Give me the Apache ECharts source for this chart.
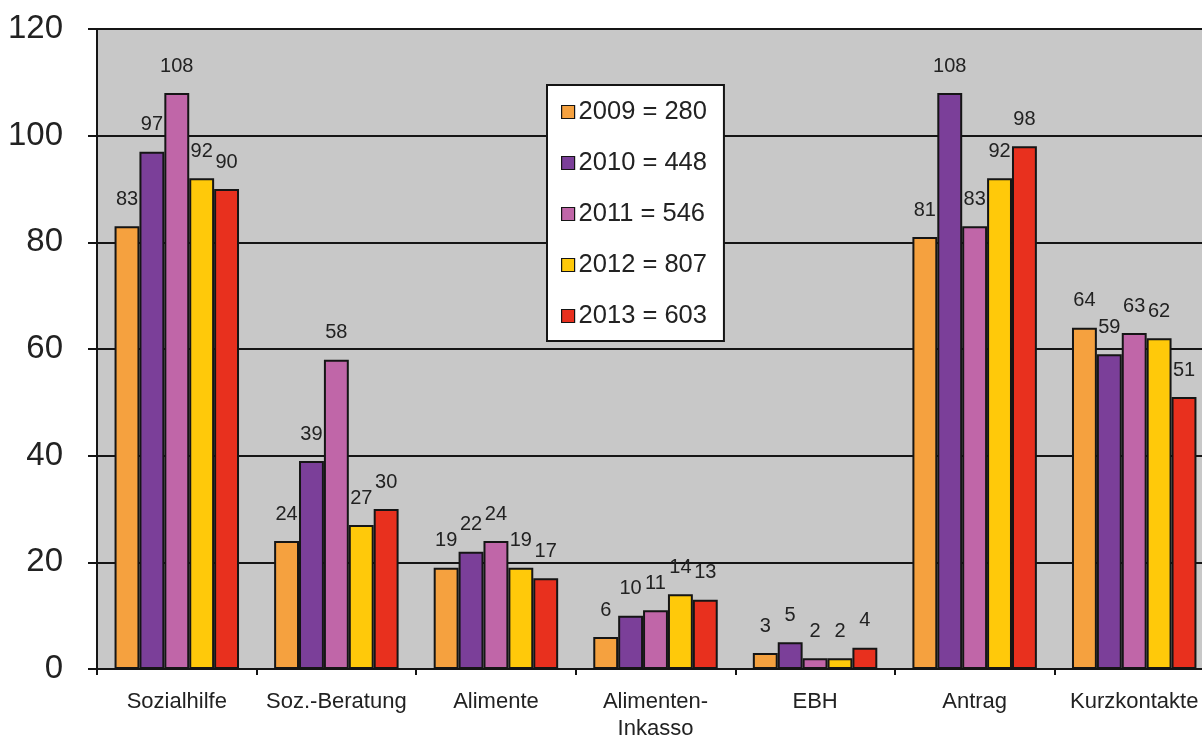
<!DOCTYPE html>
<html>
<head>
<meta charset="utf-8">
<script src="https://cdn.jsdelivr.net/npm/echarts@6/dist/echarts.min.js"></script>
<style>
html,body{margin:0;padding:0;background:#fff;}
#chart{width:1202px;height:736px;}
</style>
</head>
<body>
<div id="chart"></div>
<script>
var categories = ['Sozialhilfe', 'Soz.-Beratung', 'Alimente', 'Alimenten-\nInkasso', 'EBH', 'Antrag', 'Kurzkontakte'];
var seriesNames = ['2009 = 280', '2010 = 448', '2011 = 546', '2012 = 807', '2013 = 603'];
var values2009 = [83, 24, 19, 6, 3, 81, 64];
var values2010 = [97, 39, 22, 10, 5, 108, 59];
var values2011 = [108, 58, 24, 11, 2, 83, 63];
var values2012 = [92, 27, 19, 14, 2, 92, 62];
var values2013 = [90, 30, 17, 13, 4, 98, 51];
var yTicks = [0, 20, 40, 60, 80, 100, 120];

var colors = ['#f5a13f', '#7b3f99', '#c066a8', '#ffc90a', '#e8301e'];
var allValues = [values2009, values2010, values2011, values2012, values2013];

var chart = echarts.init(document.getElementById('chart'));
var FONT = 'Liberation Sans, Arial, sans-serif';

var series = seriesNames.map(function (name, i) {
  return {
    name: name,
    type: 'bar',
    data: allValues[i],
    barGap: '0%',
    barCategoryGap: '22%',
    itemStyle: { color: colors[i], borderColor: '#151515', borderWidth: 2 },
    label: {
      show: true,
      position: 'top',
      distance: 17,
      color: '#222',
      fontSize: 20,
      fontFamily: FONT
    }
  };
});

chart.setOption({
  animation: false,
  backgroundColor: '#ffffff',
  color: colors,
  grid: {
    left: 97, top: 29, height: 640, width: 1117,
    outerBoundsMode: 'none',
    containLabel: false,
    show: true, backgroundColor: '#c8c8c8', borderWidth: 0
  },
  legend: {
    data: seriesNames,
    orient: 'vertical',
    left: 547, top: 85,
    backgroundColor: '#ffffff',
    borderColor: '#151515',
    borderWidth: 2,
    padding: [14, 17, 12, 14],
    itemWidth: 13, itemHeight: 13,
    itemGap: 25,
    icon: 'rect',
    itemStyle: { borderColor: '#151515', borderWidth: 1.2 },
    textStyle: { fontSize: 25.5, lineHeight: 26, color: '#222', fontFamily: FONT, padding: [0, 0, 0, -1] }
  },
  xAxis: {
    type: 'category',
    data: categories,
    axisLine: { show: true, lineStyle: { color: '#151515', width: 2 } },
    axisTick: { show: true, length: 6, lineStyle: { color: '#151515', width: 2 } },
    axisLabel: { fontSize: 22, color: '#222', fontFamily: FONT, margin: 19, lineHeight: 27, interval: 0 }
  },
  yAxis: {
    type: 'value',
    min: yTicks[0], max: yTicks[yTicks.length - 1], interval: 20,
    axisLine: { show: true, lineStyle: { color: '#151515', width: 2 } },
    axisTick: { show: true, length: 9, lineStyle: { color: '#151515', width: 2 } },
    splitLine: { show: true, lineStyle: { color: '#151515', width: 2 } },
    axisLabel: { fontSize: 33, color: '#222', fontFamily: FONT, margin: 34 }
  },
  series: series
});
</script>
</body>
</html>
